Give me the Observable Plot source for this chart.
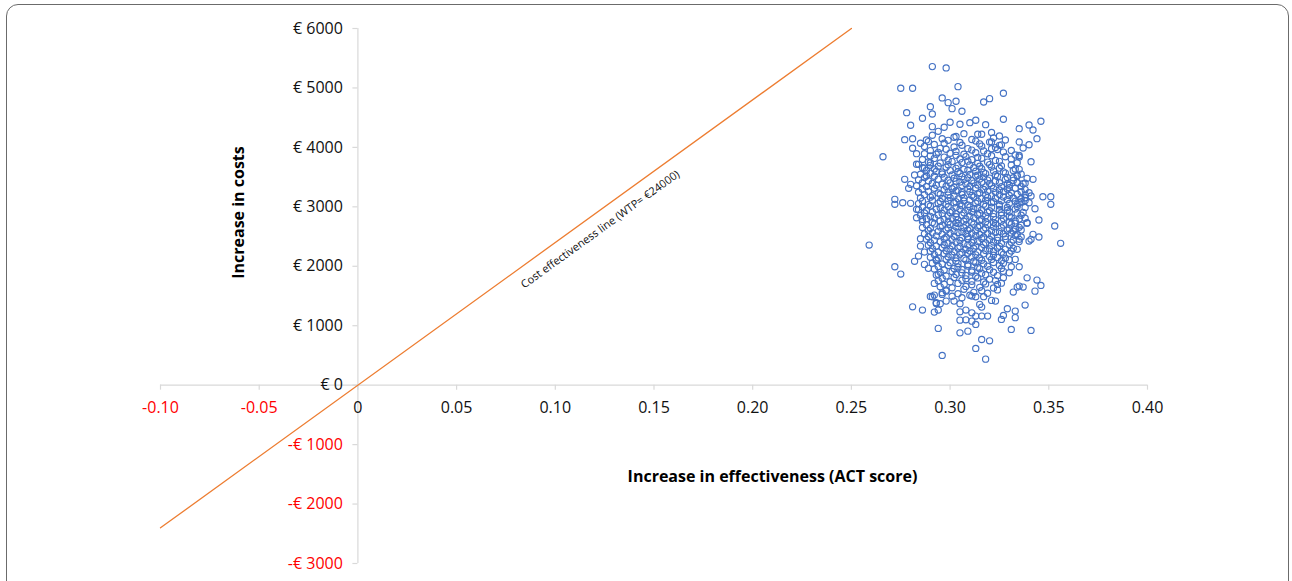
<!DOCTYPE html>
<html><head><meta charset="utf-8">
<script src="https://cdn.jsdelivr.net/npm/d3@7"></script>
<script src="https://cdn.jsdelivr.net/npm/@observablehq/plot@0.6"></script>
<style>
html,body{margin:0;padding:0;background:#fff;overflow:hidden;}
#wrap{position:relative;width:1292px;height:581px;}
#frame{position:absolute;left:6px;top:4px;width:1281px;height:700px;border:1.5px solid #6b6b6b;border-radius:12px;pointer-events:none;}
</style></head><body><div id="wrap"><div id="frame"></div></div>
<script>
const xTicks = [-0.10,-0.05,0,0.05,0.10,0.15,0.20,0.25,0.30,0.35,0.40];
const yTicks = [-3000,-2000,-1000,0,1000,2000,3000,4000,5000,6000];
const wtpEffect = [-0.10, 0.25];
const wtpCost = [-2400, 6000];
const wtpLabel = "Cost effectiveness line (WTP= €24000)";
const xTitle = "Increase in effectiveness (ACT score)";
const yTitle = "Increase in costs";

// bootstrap replicates [incremental effect, incremental cost]
const samples = [
[0.291,5359],[0.298,5337],[0.275,4995],[0.281,4995],[0.304,5022],[0.296,4832],[0.290,4685],[0.299,4753],[0.303,4776],[0.301,4652],[0.306,4608],[0.278,4584],[0.291,4562],[0.286,4490],[0.280,4372],[0.291,4349],[0.297,4338],[0.300,4423],[0.305,4389],[0.277,4130],[0.281,4146],[0.288,4125],[0.285,4069],[0.266,3843],[0.281,3985],[0.283,3894],
[0.327,4911],[0.317,4764],[0.320,4820],[0.327,4473],[0.346,4439],[0.313,4456],[0.310,4416],[0.318,4382],[0.335,4315],[0.342,4293],[0.344,4147],[0.316,4221],[0.328,4125],[0.335,4091],[0.340,4045],[0.337,3990],[0.321,4091],[0.325,4035],[0.321,3978],[0.333,3872],[0.335,3838],[0.341,3759],[0.334,3530],[0.339,3480],[0.342,3463],[0.337,3389],[0.341,3182],[0.347,3170],[0.351,3170],[0.351,3042],[0.343,2968],[0.336,3086],
[0.353,2677],[0.345,2778],[0.339,2722],[0.342,2537],[0.345,2492],[0.356,2386],[0.341,2453],[0.335,2453],[0.335,1992],[0.339,1806],[0.344,1768],[0.346,1678],[0.337,1650],[0.334,1650],[0.332,1566],[0.343,1582],[0.338,1347],[0.323,1414],[0.321,1426],[0.329,1285],[0.333,1246],[0.333,1136],[0.327,1173],[0.326,1106],[0.319,1162],[0.315,1359],[0.308,1263],[0.341,921],[0.331,938],[0.313,1022],[0.309,909],[0.316,769],[0.320,746],[0.313,618],[0.318,438],
[0.259,2357],[0.272,1992],[0.275,1869],[0.282,2083],[0.287,2032],[0.289,1965],[0.292,1712],[0.291,1487],[0.292,1515],[0.296,1527],[0.281,1318],[0.286,1263],[0.293,1386],[0.292,1229],[0.294,1263],[0.298,1414],[0.302,1414],[0.305,1369],[0.294,955],[0.305,880],[0.305,1094],[0.308,1099],[0.296,500],[0.305,1234],
[0.311,1217],[0.316,1313],[0.313,1162],[0.316,1162],[0.311,1077],[0.293,1375],[0.295,1369],[0.306,1470],[0.311,1498],[0.313,1487],[0.290,1493],[0.298,1582],
[0.340,4377],[0.293,3884],[0.290,3742],[0.283,3716],[0.286,3658],[0.282,3535],[0.277,3463],[0.279,3311],[0.272,3126],[0.280,3379],[0.288,3519],[0.335,3631],[0.332,3490],[0.334,3406],[0.330,3322],[0.340,3237],[0.338,3153],
[0.272,3042],[0.276,3069],[0.280,3059],[0.283,2958],[0.283,2817],[0.286,2789],[0.285,2463],[0.285,2340],[0.287,2239],[0.284,2172],[0.293,2116],[0.294,1864],[0.340,2424],[0.339,2732],[0.340,3069],[0.335,3069],[0.333,2621],[0.334,2285],[0.333,2116],[0.330,1891],[0.335,1667],[0.324,1695],
[0.294,4270],[0.307,4231],[0.321,4252],
[0.291,4205],[0.303,4183],[0.314,4221],[0.325,4192],
[0.296,4146],[0.302,4171],[0.311,4133],[0.322,4158],
[0.289,4097],[0.299,4119],[0.305,4082],[0.313,4106],[0.320,4089],
[0.292,4048],[0.297,4071],[0.306,4036],[0.315,4059],[0.326,4043],
[0.287,4017],[0.295,3984],[0.302,4006],[0.309,3979],[0.316,4021],[0.323,3997],
[0.290,3946],[0.298,3968],[0.303,3932],[0.311,3955],[0.317,3941],[0.324,3964],[0.331,3948],
[0.287,3894],[0.294,3917],[0.300,3901],[0.307,3884],[0.313,3910],[0.319,3893],[0.327,3921],
[0.290,3857],[0.297,3836],[0.303,3866],[0.308,3845],[0.314,3831],[0.321,3859],[0.328,3842],[0.335,3864],
[0.286,3797],[0.292,3815],[0.299,3784],[0.305,3806],[0.311,3792],[0.316,3818],[0.323,3781],[0.331,3803],
[0.289,3755],[0.295,3738],[0.301,3761],[0.306,3744],[0.309,3768],[0.314,3732],[0.319,3752],[0.325,3765],[0.334,3741],
[0.284,3715],[0.290,3698],[0.294,3684],[0.299,3710],[0.304,3693],[0.310,3706],[0.315,3682],[0.320,3711],[0.326,3690],[0.331,3703],
[0.287,3652],[0.292,3638],[0.298,3666],[0.303,3647],[0.307,3631],[0.312,3659],[0.316,3641],[0.321,3668],[0.325,3650],[0.333,3637],
[0.288,3612],[0.293,3596],[0.296,3584],[0.300,3609],[0.304,3591],[0.309,3617],[0.313,3598],[0.317,3580],[0.322,3604],[0.327,3589],[0.332,3613],
[0.285,3549],[0.290,3566],[0.296,3553],[0.301,3537],[0.305,3562],[0.310,3545],[0.314,3531],[0.318,3559],[0.323,3541],[0.328,3567],[0.336,3550],
[0.287,3492],[0.292,3514],[0.297,3498],[0.302,3481],[0.306,3508],[0.309,3490],[0.313,3519],[0.317,3501],[0.320,3484],[0.324,3511],[0.329,3495],[0.334,3517],
[0.284,3454],[0.289,3438],[0.294,3465],[0.299,3447],[0.303,3431],[0.307,3458],[0.311,3442],[0.315,3469],[0.319,3450],[0.323,3434],[0.328,3461],[0.332,3445],
[0.286,3408],[0.291,3393],[0.296,3381],[0.300,3403],[0.305,3418],[0.308,3386],[0.312,3399],[0.316,3414],[0.320,3391],[0.325,3405],[0.329,3384],[0.334,3410],[0.338,3397],
[0.283,3356],[0.288,3340],[0.293,3362],[0.298,3347],[0.302,3331],[0.306,3358],[0.310,3342],[0.314,3367],[0.318,3336],[0.321,3353],[0.326,3339],[0.330,3364],[0.336,3345],
[0.286,3297],[0.292,3312],[0.297,3289],[0.301,3305],[0.304,3281],[0.309,3302],[0.313,3318],[0.317,3291],[0.322,3308],[0.325,3284],[0.329,3299],[0.333,3314],[0.338,3290],
[0.284,3246],[0.289,3259],[0.294,3233],[0.299,3251],[0.303,3268],[0.306,3240],[0.310,3255],[0.315,3237],[0.319,3262],[0.323,3244],[0.327,3258],[0.331,3236],[0.336,3253],
[0.287,3205],[0.291,3186],[0.295,3213],[0.299,3197],[0.302,3182],[0.306,3209],[0.311,3192],[0.314,3217],[0.318,3199],[0.321,3184],[0.325,3206],[0.330,3190],[0.334,3212],[0.338,3201],
[0.285,3148],[0.290,3163],[0.296,3141],[0.300,3156],[0.304,3135],[0.307,3152],[0.312,3167],[0.316,3139],[0.319,3157],[0.323,3144],[0.327,3165],[0.332,3149],[0.336,3136],
[0.286,3097],[0.291,3112],[0.295,3089],[0.299,3104],[0.303,3083],[0.307,3099],[0.310,3116],[0.314,3093],[0.318,3108],[0.322,3086],[0.326,3101],[0.329,3119],[0.333,3095],[0.338,3106],
[0.284,3054],[0.289,3037],[0.294,3058],[0.298,3043],[0.302,3066],[0.305,3048],[0.309,3033],[0.313,3061],[0.317,3045],[0.321,3068],[0.325,3039],[0.330,3056],[0.334,3042],
[0.286,2996],[0.290,3014],[0.295,2985],[0.299,3003],[0.303,2991],[0.306,3018],[0.310,2997],[0.314,2982],[0.318,3009],[0.321,2994],[0.325,3016],[0.329,2988],[0.334,3005],[0.338,2990],
[0.284,2953],[0.288,2938],[0.293,2961],[0.297,2945],[0.301,2932],[0.305,2958],[0.309,2941],[0.312,2967],[0.316,2949],[0.320,2934],[0.325,2956],[0.329,2943],[0.333,2962],
[0.287,2896],[0.291,2911],[0.296,2889],[0.300,2904],[0.303,2883],[0.307,2899],[0.311,2916],[0.315,2892],[0.319,2908],[0.322,2885],[0.326,2902],[0.330,2917],[0.334,2894],[0.337,2906],
[0.285,2857],[0.290,2840],[0.294,2862],[0.299,2847],[0.303,2833],[0.306,2856],[0.310,2841],[0.314,2866],[0.318,2849],[0.322,2835],[0.326,2860],[0.330,2844],[0.336,2858],
[0.288,2801],[0.292,2815],[0.297,2790],[0.301,2806],[0.304,2784],[0.308,2798],[0.312,2813],[0.316,2791],[0.319,2807],[0.323,2786],[0.327,2803],[0.331,2818],[0.335,2795],[0.338,2808],
[0.286,2754],[0.291,2738],[0.295,2761],[0.299,2746],[0.303,2732],[0.307,2757],[0.311,2743],[0.315,2766],[0.318,2749],[0.322,2735],[0.326,2760],[0.330,2742],[0.333,2763],
[0.288,2697],[0.292,2713],[0.296,2688],[0.300,2704],[0.304,2719],[0.308,2691],[0.312,2707],[0.315,2685],[0.319,2701],[0.323,2716],[0.327,2693],[0.331,2709],[0.336,2690],[0.333,2722],
[0.286,2651],[0.290,2638],[0.295,2659],[0.299,2644],[0.303,2666],[0.307,2649],[0.310,2634],[0.314,2657],[0.318,2642],[0.322,2664],[0.326,2648],[0.330,2633],[0.335,2655],
[0.289,2603],[0.294,2588],[0.298,2611],[0.302,2594],[0.306,2581],[0.309,2607],[0.313,2592],[0.317,2615],[0.321,2597],[0.325,2583],[0.329,2606],[0.332,2591],[0.336,2612],
[0.287,2546],[0.291,2562],[0.296,2540],[0.300,2555],[0.304,2569],[0.308,2543],[0.311,2558],[0.315,2536],[0.319,2552],[0.323,2567],[0.327,2545],[0.331,2560],[0.334,2538],
[0.289,2497],[0.293,2512],[0.298,2489],[0.302,2504],[0.306,2481],[0.309,2499],[0.313,2516],[0.317,2492],[0.321,2508],[0.324,2486],[0.328,2502],[0.333,2519],[0.336,2494],
[0.288,2456],[0.292,2440],[0.297,2463],[0.301,2447],[0.305,2433],[0.309,2459],[0.312,2444],[0.316,2468],[0.320,2451],[0.324,2436],[0.328,2457],[0.332,2443],
[0.290,2398],[0.295,2413],[0.299,2390],[0.303,2405],[0.307,2384],[0.311,2401],[0.314,2417],[0.318,2394],[0.322,2409],[0.326,2387],[0.331,2403],[0.335,2415],
[0.289,2354],[0.293,2340],[0.297,2362],[0.301,2346],[0.305,2333],[0.309,2357],[0.313,2343],[0.317,2365],[0.321,2350],[0.325,2336],[0.330,2358],
[0.291,2297],[0.296,2313],[0.300,2289],[0.304,2305],[0.308,2282],[0.312,2300],[0.316,2316],[0.320,2293],[0.324,2308],[0.328,2285],[0.332,2302],
[0.290,2254],[0.294,2239],[0.298,2261],[0.302,2246],[0.306,2233],[0.310,2258],[0.314,2242],[0.318,2265],[0.322,2249],[0.326,2236],[0.331,2257],
[0.292,2197],[0.297,2212],[0.301,2188],[0.305,2204],[0.309,2219],[0.313,2193],[0.317,2208],[0.322,2185],[0.327,2201],[0.330,2216],
[0.290,2151],[0.294,2138],[0.299,2159],[0.303,2144],[0.307,2131],[0.311,2156],[0.315,2142],[0.320,2163],[0.324,2147],[0.328,2134],
[0.293,2097],[0.298,2113],[0.303,2089],[0.308,2104],[0.312,2084],[0.316,2101],[0.321,2116],[0.326,2093],[0.330,2108],
[0.291,2053],[0.296,2039],[0.300,2061],[0.304,2046],[0.309,2032],[0.313,2058],[0.317,2043],[0.322,2064],[0.327,2049],
[0.294,1997],[0.299,2012],[0.304,1988],[0.309,2004],[0.314,1983],[0.319,2000],[0.325,2015],[0.331,1992],
[0.292,1953],[0.297,1938],[0.302,1961],[0.306,1946],[0.311,1932],[0.315,1957],[0.320,1943],[0.326,1964],
[0.295,1898],[0.301,1913],[0.306,1889],[0.311,1904],[0.316,1884],[0.322,1900],[0.327,1915],
[0.293,1852],[0.298,1838],[0.303,1861],[0.308,1846],[0.313,1832],[0.318,1857],[0.324,1843],
[0.296,1797],[0.302,1811],[0.308,1789],[0.314,1804],[0.320,1783],[0.327,1808],
[0.294,1755],[0.300,1741],[0.306,1763],[0.311,1748],[0.317,1736],[0.323,1759],
[0.297,1697],[0.304,1712],[0.311,1688],[0.318,1703],[0.326,1716],
[0.295,1654],[0.301,1639],[0.308,1661],[0.315,1646],[0.322,1634],
[0.298,1597],[0.307,1612],[0.316,1588],[0.324,1603],
[0.296,1553],[0.304,1539],[0.312,1561],[0.319,1546],
[0.301,1497],[0.310,1512],[0.317,1489]
];

const fmtX = d => d === 0 ? "0" : d.toFixed(2);
const fmtY = d => d === 0 ? "€ 0" : (d < 0 ? "-€ " + (-d) : "€ " + d);
const negX = xTicks.filter(d => d < 0), posX = xTicks.filter(d => d >= 0);
const negY = yTicks.filter(d => d < 0), posY = yTicks.filter(d => d >= 0);
const wtp = wtpEffect.map((e, i) => ({effect: e, cost: wtpCost[i]}));
const axisColor = "#d9d9d9";

const chart = Plot.plot({
  width: 1292, height: 581,
  marginLeft: 160, marginRight: 145, marginTop: 28, marginBottom: 18,
  x: {domain: [xTicks[0], xTicks[xTicks.length - 1]], axis: null},
  y: {domain: [yTicks[0], yTicks[yTicks.length - 1]], axis: null},
  style: {fontFamily: "'Open Sans', sans-serif", fontSize: "16px", background: "transparent", overflow: "visible"},
  marks: [
    Plot.ruleY([0], {x1: xTicks[0], x2: xTicks[xTicks.length - 1], stroke: axisColor, strokeWidth: 1.2}),
    Plot.ruleX([0], {y1: yTicks[0], y2: yTicks[yTicks.length - 1], stroke: axisColor, strokeWidth: 1.2}),
    Plot.ruleX(xTicks, {x: d => d, y1: 0, y2: 0, insetBottom: -5, stroke: axisColor, strokeWidth: 1.2}),
    Plot.ruleY(yTicks, {y: d => d, x1: 0, x2: 0, insetLeft: -5, stroke: axisColor, strokeWidth: 1.2}),
    Plot.text(posX, {x: d => d, y: 0, dy: 23, text: fmtX, fill: "#111"}),
    Plot.text(negX, {x: d => d, y: 0, dy: 23, text: fmtX, fill: "#ff0000"}),
    Plot.text(posY, {x: 0, y: d => d, dx: -15, textAnchor: "end", text: fmtY, fill: "#111"}),
    Plot.text(negY, {x: 0, y: d => d, dx: -15, textAnchor: "end", text: fmtY, fill: "#ff0000"}),
    Plot.line(wtp, {x: "effect", y: "cost", stroke: "#ED7D31", strokeWidth: 1.3}),
    Plot.text([wtpLabel], {x: 0.1228, y: 2620, rotate: -35.9, fontSize: 11, fill: "#111"}),
    Plot.dot(samples, {x: d => d[0], y: d => d[1], r: 3.1, stroke: "#4472C4", strokeWidth: 1.15, fill: "none"}),
    Plot.text([xTitle], {frameAnchor: "top-left", dx: 612, dy: 448, textAnchor: "middle", lineAnchor: "middle", fontWeight: "bold", fontSize: 16, fill: "#000"}),
    Plot.text([yTitle], {frameAnchor: "top-left", dx: 78, dy: 184, textAnchor: "middle", lineAnchor: "middle", rotate: -90, fontWeight: "bold", fontSize: 16, fill: "#000"})
  ]
});
document.getElementById("wrap").prepend(chart);
</script>
</body></html>
